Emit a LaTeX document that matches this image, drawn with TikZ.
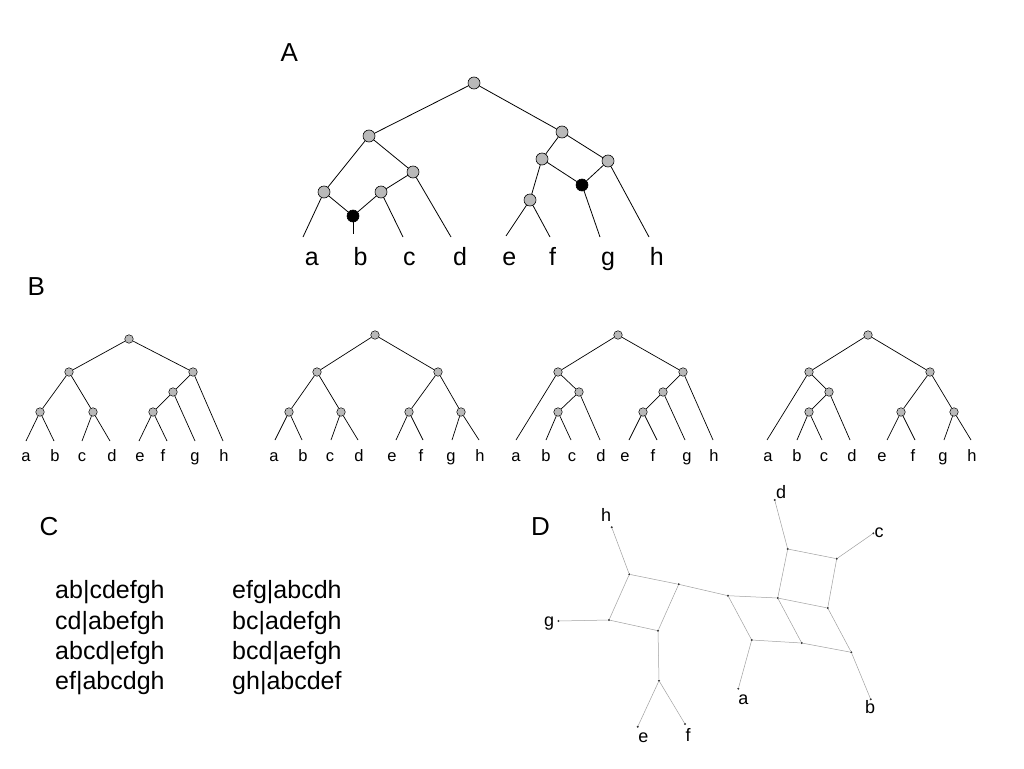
\documentclass[tikz,border=0pt]{standalone}
\usepackage{fontspec}
\setmainfont{Liberation Sans}
\begin{document}
\begin{tikzpicture}[x=1pt,y=-1pt,
  edge/.style={line width=0.8pt},
  bedge/.style={line width=0.7pt},
  anode/.style={circle,draw,line width=0.6pt,fill=gray!55,minimum size=12pt,inner sep=0pt},
  anodeb/.style={anode,fill=black},
  bnode/.style={circle,draw,line width=0.5pt,fill=gray!55,minimum size=8.5pt,inner sep=0pt},
  dnode/.style={circle,fill=black!80,minimum size=2.2pt,inner sep=0pt},
  dedge/.style={line width=0.5pt,draw=gray!75},
  panel/.style={font=\fontsize{26}{30}\selectfont,anchor=base west,inner sep=0pt},
  alab/.style={font=\fontsize{25}{29}\selectfont,anchor=base,inner sep=0pt},
  blab/.style={font=\fontsize{16.5}{19}\selectfont,anchor=base,inner sep=0pt},
  ctext/.style={font=\fontsize{25}{29}\selectfont,anchor=base west,inner sep=0pt},
  dlab/.style={font=\fontsize{18}{21}\selectfont,anchor=base,inner sep=0pt}]
\useasboundingbox (0,0) rectangle (1024,768);

% panel letters
\node[panel] (pA) at (280.5,61.7) {A};
\node[panel] (pB) at (27.5,295) {B};
\node[panel] (pC) at (39.5,535) {C};
\node[panel] (pD) at (531,535) {D};

% ---------------- Panel A
\node[anode] (Ar) at (474,83) {};
\node[anode] (Al) at (369,136) {};
\node[anode] (AR) at (562,132) {};
\node[anode] (All) at (324,192) {};
\node[anode] (Alr) at (413,172) {};
\node[anode] (Alrl) at (381,192) {};
\node[anodeb] (Ak1) at (353,216) {};
\node[anode] (ARl) at (542,159) {};
\node[anode] (ARr) at (608,161) {};
\node[anodeb] (Ak2) at (582,185) {};
\node[anode] (ARll) at (530,200) {};
\coordinate (Aa) at (303,237);
\coordinate (Ab) at (353,234);
\coordinate (Ac) at (403,237);
\coordinate (Ad) at (451,237);
\coordinate (Ae) at (506,236);
\coordinate (Af) at (550,237);
\coordinate (Ag) at (600,237);
\coordinate (Ah) at (649,237);
\draw[edge] (Ar)--(Al);
\draw[edge] (Ar)--(AR);
\draw[edge] (Al)--(All);
\draw[edge] (Al)--(Alr);
\draw[edge] (All)--(Aa);
\draw[edge] (All)--(Ak1);
\draw[edge] (Alr)--(Alrl);
\draw[edge] (Alr)--(Ad);
\draw[edge] (Alrl)--(Ak1);
\draw[edge] (Alrl)--(Ac);
\draw[edge] (Ak1)--(Ab);
\draw[edge] (AR)--(ARl);
\draw[edge] (AR)--(ARr);
\draw[edge] (ARl)--(ARll);
\draw[edge] (ARl)--(Ak2);
\draw[edge] (ARr)--(Ak2);
\draw[edge] (ARr)--(Ah);
\draw[edge] (Ak2)--(Ag);
\draw[edge] (ARll)--(Ae);
\draw[edge] (ARll)--(Af);
\node[alab] (Ala) at (311.7,265) {a};
\node[alab] (Alb) at (360.5,265) {b};
\node[alab] (Alc) at (409.3,265) {c};
\node[alab] (Ald) at (460,265) {d};
\node[alab] (Ale) at (509.3,265) {e};
\node[alab] (Alf) at (552.5,265) {f};
\node[alab] (Alg) at (608,265) {g};
\node[alab] (Alh) at (656.7,265) {h};

% ---------------- Panel B, tree 1
\node[bnode] (B1r) at (129,339) {};
\node[bnode] (B1l) at (69,372) {};
\node[bnode] (B1R) at (193,372) {};
\node[bnode] (B1ll) at (40,412) {};
\node[bnode] (B1lr) at (93,412) {};
\node[bnode] (B1R2) at (173,392) {};
\node[bnode] (B1R3) at (153,412) {};
\coordinate (B1a) at (26,441);
\coordinate (B1b) at (54,441);
\coordinate (B1c) at (82,441);
\coordinate (B1d) at (110,441);
\coordinate (B1e) at (139,441);
\coordinate (B1f) at (167,441);
\coordinate (B1g) at (195,441);
\coordinate (B1h) at (223,441);
\draw[bedge] (B1r)--(B1l);
\draw[bedge] (B1r)--(B1R);
\draw[bedge] (B1l)--(B1ll);
\draw[bedge] (B1l)--(B1lr);
\draw[bedge] (B1ll)--(B1a);
\draw[bedge] (B1ll)--(B1b);
\draw[bedge] (B1lr)--(B1c);
\draw[bedge] (B1lr)--(B1d);
\draw[bedge] (B1R)--(B1R2);
\draw[bedge] (B1R)--(B1h);
\draw[bedge] (B1R2)--(B1R3);
\draw[bedge] (B1R2)--(B1g);
\draw[bedge] (B1R3)--(B1e);
\draw[bedge] (B1R3)--(B1f);
\node[blab] (B1la) at (26,461.7) {a};
\node[blab] (B1lb) at (55,461.7) {b};
\node[blab] (B1lc) at (82,461.7) {c};
\node[blab] (B1ld) at (112,461.7) {d};
\node[blab] (B1le) at (140,461.7) {e};
\node[blab] (B1lf) at (163,461.7) {f};
\node[blab] (B1lg) at (195,461.7) {g};
\node[blab] (B1lh) at (224,461.7) {h};

% ---------------- Panel B, tree 2
\node[bnode] (B2r) at (375,335) {};
\node[bnode] (B2l) at (317,372) {};
\node[bnode] (B2R) at (438,372) {};
\node[bnode] (B2ll) at (289,412) {};
\node[bnode] (B2lr) at (341,412) {};
\node[bnode] (B2Rl) at (409,412) {};
\node[bnode] (B2Rr) at (461,412) {};
\coordinate (B2a) at (275,440);
\coordinate (B2b) at (302,440);
\coordinate (B2c) at (331,440);
\coordinate (B2d) at (358,440);
\coordinate (B2e) at (396,440);
\coordinate (B2f) at (423,440);
\coordinate (B2g) at (452,440);
\coordinate (B2h) at (479,440);
\draw[bedge] (B2r)--(B2l);
\draw[bedge] (B2r)--(B2R);
\draw[bedge] (B2l)--(B2ll);
\draw[bedge] (B2l)--(B2lr);
\draw[bedge] (B2ll)--(B2a);
\draw[bedge] (B2ll)--(B2b);
\draw[bedge] (B2lr)--(B2c);
\draw[bedge] (B2lr)--(B2d);
\draw[bedge] (B2R)--(B2Rl);
\draw[bedge] (B2R)--(B2Rr);
\draw[bedge] (B2Rl)--(B2e);
\draw[bedge] (B2Rl)--(B2f);
\draw[bedge] (B2Rr)--(B2g);
\draw[bedge] (B2Rr)--(B2h);
\node[blab] (B2la) at (274,461.7) {a};
\node[blab] (B2lb) at (303,461.7) {b};
\node[blab] (B2lc) at (330,461.7) {c};
\node[blab] (B2ld) at (359,461.7) {d};
\node[blab] (B2le) at (392,461.7) {e};
\node[blab] (B2lf) at (421,461.7) {f};
\node[blab] (B2lg) at (451,461.7) {g};
\node[blab] (B2lh) at (480,461.7) {h};

% ---------------- Panel B, tree 3
\node[bnode] (B3r) at (618,335) {};
\node[bnode] (B3l) at (558,372) {};
\node[bnode] (B3R) at (683,372) {};
\node[bnode] (B3l2) at (579,392) {};
\node[bnode] (B3l3) at (558,412) {};
\node[bnode] (B3R2) at (663,392) {};
\node[bnode] (B3R3) at (643,412) {};
\coordinate (B3a) at (516,440);
\coordinate (B3b) at (546,440);
\coordinate (B3c) at (571,440);
\coordinate (B3d) at (600,440);
\coordinate (B3e) at (629,440);
\coordinate (B3f) at (657,440);
\coordinate (B3g) at (685,440);
\coordinate (B3h) at (713,440);
\draw[bedge] (B3r)--(B3l);
\draw[bedge] (B3r)--(B3R);
\draw[bedge] (B3l)--(B3a);
\draw[bedge] (B3l)--(B3l2);
\draw[bedge] (B3l2)--(B3l3);
\draw[bedge] (B3l2)--(B3d);
\draw[bedge] (B3l3)--(B3b);
\draw[bedge] (B3l3)--(B3c);
\draw[bedge] (B3R)--(B3R2);
\draw[bedge] (B3R)--(B3h);
\draw[bedge] (B3R2)--(B3R3);
\draw[bedge] (B3R2)--(B3g);
\draw[bedge] (B3R3)--(B3e);
\draw[bedge] (B3R3)--(B3f);
\node[blab] (B3la) at (516,461.7) {a};
\node[blab] (B3lb) at (546,461.7) {b};
\node[blab] (B3lc) at (572,461.7) {c};
\node[blab] (B3ld) at (601,461.7) {d};
\node[blab] (B3le) at (625,461.7) {e};
\node[blab] (B3lf) at (653,461.7) {f};
\node[blab] (B3lg) at (687,461.7) {g};
\node[blab] (B3lh) at (714,461.7) {h};

% ---------------- Panel B, tree 4
\node[bnode] (B4r) at (868,335) {};
\node[bnode] (B4l) at (809,372) {};
\node[bnode] (B4R) at (930,372) {};
\node[bnode] (B4l2) at (829,392) {};
\node[bnode] (B4l3) at (809,412) {};
\node[bnode] (B4Rl) at (901,412) {};
\node[bnode] (B4Rr) at (954,412) {};
\coordinate (B4a) at (767,440);
\coordinate (B4b) at (797,440);
\coordinate (B4c) at (822,440);
\coordinate (B4d) at (850,440);
\coordinate (B4e) at (887,440);
\coordinate (B4f) at (915,440);
\coordinate (B4g) at (944,440);
\coordinate (B4h) at (971,440);
\draw[bedge] (B4r)--(B4l);
\draw[bedge] (B4r)--(B4R);
\draw[bedge] (B4l)--(B4a);
\draw[bedge] (B4l)--(B4l2);
\draw[bedge] (B4l2)--(B4l3);
\draw[bedge] (B4l2)--(B4d);
\draw[bedge] (B4l3)--(B4b);
\draw[bedge] (B4l3)--(B4c);
\draw[bedge] (B4R)--(B4Rl);
\draw[bedge] (B4R)--(B4Rr);
\draw[bedge] (B4Rl)--(B4e);
\draw[bedge] (B4Rl)--(B4f);
\draw[bedge] (B4Rr)--(B4g);
\draw[bedge] (B4Rr)--(B4h);
\node[blab] (B4la) at (768,461.7) {a};
\node[blab] (B4lb) at (797,461.7) {b};
\node[blab] (B4lc) at (824,461.7) {c};
\node[blab] (B4ld) at (852,461.7) {d};
\node[blab] (B4le) at (882,461.7) {e};
\node[blab] (B4lf) at (913,461.7) {f};
\node[blab] (B4lg) at (943,461.7) {g};
\node[blab] (B4lh) at (972,461.7) {h};

% ---------------- Panel C
\node[ctext] (C1) at (55,598.3) {ab|cdefgh};
\node[ctext] (C2) at (55,629) {cd|abefgh};
\node[ctext] (C3) at (55,659.5) {abcd|efgh};
\node[ctext] (C4) at (55,689.5) {ef|abcdgh};
\node[ctext] (C5) at (232,598.3) {efg|abcdh};
\node[ctext] (C6) at (232,629) {bc|adefgh};
\node[ctext] (C7) at (232,659.5) {bcd|aefgh};
\node[ctext] (C8) at (232,689.5) {gh|abcdef};

% ---------------- Panel D
\node[dnode] (hD) at (611.7,527.3) {};
\node[dnode] (N1) at (629.3,574.3) {};
\node[dnode] (N2) at (678.7,584.3) {};
\node[dnode] (N3) at (728,595.7) {};
\node[dnode] (gD) at (558.5,621) {};
\node[dnode] (N4) at (609,620) {};
\node[dnode] (N5) at (658,630.7) {};
\node[dnode] (N6) at (659,680.7) {};
\node[dnode] (eD) at (637.7,726.7) {};
\node[dnode] (fD) at (685,724) {};
\node[dnode] (dD) at (774.7,500) {};
\node[dnode] (D1) at (787.7,549) {};
\node[dnode] (Cn) at (836.7,558.7) {};
\node[dnode] (cD) at (873.3,533.3) {};
\node[dnode] (M1) at (777.7,598) {};
\node[dnode] (M2) at (827.7,608) {};
\node[dnode] (A1) at (751.7,640) {};
\node[dnode] (M3) at (801.7,643) {};
\node[dnode] (Bn) at (851.3,652.3) {};
\node[dnode] (aD) at (738.3,688.7) {};
\node[dnode] (bD) at (870.7,699.3) {};
\draw[dedge] (hD)--(N1);
\draw[dedge] (N1)--(N2);
\draw[dedge] (N2)--(N3);
\draw[dedge] (N1)--(N4);
\draw[dedge] (N2)--(N5);
\draw[dedge] (N4)--(N5);
\draw[dedge] (gD)--(N4);
\draw[dedge] (N5)--(N6);
\draw[dedge] (N6)--(eD);
\draw[dedge] (N6)--(fD);
\draw[dedge] (N3)--(M1);
\draw[dedge] (N3)--(A1);
\draw[dedge] (M1)--(M3);
\draw[dedge] (A1)--(M3);
\draw[dedge] (M3)--(Bn);
\draw[dedge] (M1)--(M2);
\draw[dedge] (M2)--(Bn);
\draw[dedge] (Bn)--(bD);
\draw[dedge] (A1)--(aD);
\draw[dedge] (M1)--(D1);
\draw[dedge] (D1)--(dD);
\draw[dedge] (D1)--(Cn);
\draw[dedge] (Cn)--(M2);
\draw[dedge] (Cn)--(cD);
\node[dlab] (hL) at (606,521.7) {h};
\node[dlab] (gL) at (549,626.5) {g};
\node[dlab] (dL) at (781,498.3) {d};
\node[dlab] (cL) at (879,537.3) {c};
\node[dlab] (aL) at (743.3,704) {a};
\node[dlab] (bL) at (870,713.3) {b};
\node[dlab] (eL) at (643.3,742.7) {e};
\node[dlab] (fL) at (688,741) {f};
\end{tikzpicture}
\end{document}
